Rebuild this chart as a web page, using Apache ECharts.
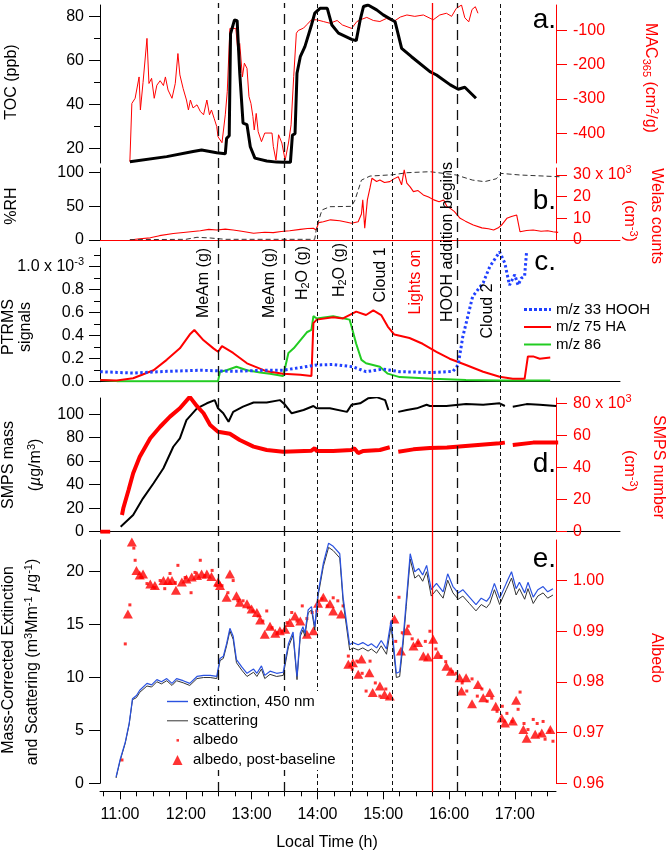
<!DOCTYPE html>
<html><head><meta charset="utf-8">
<script src="https://cdn.jsdelivr.net/npm/echarts@6/dist/echarts.min.js"></script>
<style>html,body{margin:0;padding:0;background:#fff}#c{width:666px;height:854px}</style>
</head><body><div id="c"></div>
<script>
// ---------------- DATA (time in decimal hours, local) ----------------
const tocPpb = [[11.15,13.9],[11.71,16.2],[12.11,18.5],[12.24,19.2],[12.47,18.0],[12.60,17.5],[12.62,24.5],[12.66,25.7],[12.68,72],[12.74,78.3],[12.78,78],[12.82,54],[12.87,31.4],[12.93,30.7],[12.98,20.7],[13.05,15.5],[13.23,14.2],[13.38,13.7],[13.48,13.6],[13.59,13.6],[13.62,26],[13.66,26.6],[13.69,54.1],[13.74,61.6],[13.81,66.2],[13.91,76],[13.96,81.4],[14.04,83.6],[14.15,83.6],[14.22,76],[14.32,72.3],[14.52,69.5],[14.59,68.9],[14.65,78.3],[14.70,84.4],[14.77,85.1],[14.90,82.9],[15.00,80.6],[15.18,77.5],[15.28,65.4],[15.43,61.6],[15.71,54.8],[15.81,53.3],[16.02,48.8],[16.14,46.8],[16.24,47.7],[16.41,42.7]];
const mac365 = [[11.15,-482],[11.18,-313],[11.23,-298],[11.26,-302],[11.29,-236],[11.31,-332],[11.35,-252],[11.41,-124],[11.44,-255],[11.48,-240],[11.52,-298],[11.56,-260],[11.61,-247],[11.66,-261],[11.69,-236],[11.73,-274],[11.79,-298],[11.84,-255],[11.88,-168],[11.91,-230],[11.96,-270],[12.01,-303],[12.04,-332],[12.07,-303],[12.11,-326],[12.17,-317],[12.22,-336],[12.27,-346],[12.32,-303],[12.36,-346],[12.39,-332],[12.43,-356],[12.47,-380],[12.49,-410],[12.55,-427],[12.60,-346],[12.63,-279],[12.67,-95],[12.76,-95],[12.79,-158],[12.82,-139],[12.86,-236],[12.89,-196],[12.93,-211],[12.96,-293],[12.99,-313],[13.02,-351],[13.04,-390],[13.07,-342],[13.10,-395],[13.15,-424],[13.20,-399],[13.31,-399],[13.33,-438],[13.37,-478],[13.41,-404],[13.46,-428],[13.51,-478],[13.56,-428],[13.60,-375],[13.64,-235],[13.68,-109],[13.71,-101],[13.79,-94],[13.84,-84],[13.91,-70],[13.99,-70],[14.09,-75],[14.19,-80],[14.30,-72],[14.38,-85],[14.45,-90],[14.52,-95],[14.60,-75],[14.68,-68],[14.75,-63],[14.85,-72],[14.95,-75],[15.05,-66],[15.16,-75],[15.26,-62],[15.36,-56],[15.48,-60],[15.61,-56],[15.76,-70],[15.86,-56],[15.96,-51],[16.04,-60],[16.11,-37],[16.19,-27],[16.24,-64],[16.30,-76],[16.35,-40],[16.40,-32],[16.44,-51]];
const rhPct = [[11.15,0.5],[12.00,1],[12.17,4],[12.37,3],[12.60,1],[13.96,1],[13.99,19.8],[14.07,44.6],[14.19,49.5],[14.52,50],[14.57,59],[14.67,89],[14.80,95],[15.15,97],[15.36,100],[15.71,101.5],[16.11,96.6],[16.36,89],[16.54,86.7],[16.72,91],[16.79,99],[17.08,96.6],[17.68,94]];
const welasK = [[11.15,0],[11.30,0.6],[11.46,1],[11.60,2],[11.81,3],[12.00,3.6],[12.22,4.3],[12.35,4.9],[12.47,4.6],[12.60,5.0],[12.72,4.6],[12.85,4.0],[13.03,3.1],[13.20,3.6],[13.33,3.4],[13.45,3.9],[13.58,4.3],[13.74,4.9],[13.85,5.3],[13.94,5.4],[13.98,4.6],[14.02,8.0],[14.09,8.4],[14.20,9.3],[14.34,8.9],[14.45,8.2],[14.52,7.7],[14.62,8.4],[14.67,12],[14.69,18.5],[14.72,5.4],[14.76,18.5],[14.80,24],[14.83,28.5],[14.90,27],[14.95,27.7],[15.02,26.5],[15.10,26.9],[15.17,28.3],[15.23,29.2],[15.28,25.4],[15.32,32.3],[15.36,26.2],[15.41,24.5],[15.46,22.3],[15.53,22.8],[15.61,20.8],[15.69,19.8],[15.77,18.5],[15.85,17.6],[15.92,18.4],[15.97,15.4],[16.02,14.6],[16.08,13.2],[16.17,10],[16.25,8.7],[16.37,6.9],[16.50,5.6],[16.60,5.2],[16.68,4.6],[16.75,5.6],[16.80,6.9],[16.88,10],[16.95,10.8],[17.03,11.5],[17.08,3.8],[17.18,4.4],[17.28,4.6],[17.40,4.0],[17.50,4.3],[17.58,3.8],[17.66,3.5]];
const hoohE3 = [[10.70,0.087],[11.20,0.075],[11.71,0.09],[12.22,0.1],[12.72,0.09],[13.23,0.1],[13.48,0.1],[13.99,0.145],[14.24,0.15],[14.54,0.13],[14.74,0.087],[15.00,0.11],[15.25,0.087],[15.76,0.08],[16.06,0.09],[16.14,0.145],[16.21,0.39],[16.36,0.74],[16.52,0.86],[16.62,1.0],[16.77,1.13],[16.85,1.03],[16.92,0.84],[17.00,0.93],[17.05,0.84],[17.10,0.9],[17.15,0.92],[17.18,1.13]];
const haE3 = [[10.70,0.015],[10.95,0.01],[11.20,0.03],[11.51,0.1],[11.71,0.19],[11.91,0.29],[12.06,0.41],[12.13,0.45],[12.27,0.36],[12.42,0.29],[12.49,0.26],[12.55,0.31],[12.72,0.25],[12.93,0.16],[13.23,0.09],[13.48,0.07],[13.74,0.06],[13.91,0.05],[13.94,0.51],[13.99,0.54],[14.24,0.56],[14.39,0.55],[14.59,0.61],[14.74,0.58],[14.85,0.62],[14.97,0.58],[15.07,0.48],[15.17,0.41],[15.40,0.38],[15.60,0.33],[15.81,0.26],[16.01,0.2],[16.26,0.145],[16.52,0.087],[16.77,0.043],[16.97,0.025],[17.15,0.025],[17.20,0.22],[17.28,0.22],[17.38,0.2],[17.54,0.21]];
const mz86E3 = [[10.70,0.015],[10.95,0.005],[12.49,0.005],[12.52,0.087],[12.62,0.1],[12.77,0.13],[12.93,0.1],[13.13,0.08],[13.28,0.07],[13.48,0.05],[13.56,0.25],[13.64,0.29],[13.74,0.36],[13.84,0.43],[13.91,0.45],[13.94,0.57],[13.99,0.55],[14.24,0.57],[14.49,0.54],[14.51,0.5],[14.59,0.33],[14.67,0.19],[14.74,0.16],[14.95,0.13],[15.07,0.07],[15.25,0.04],[15.76,0.025],[16.26,0.015],[16.77,0.01],[17.54,0.01]];
const smpsMass = [[10.70,0],[10.85,0],[10.86,null],[11.01,4.3],[11.20,14.2],[11.35,28.4],[11.51,41.2],[11.66,54],[11.81,72.3],[11.91,79.5],[12.01,95],[12.17,105],[12.32,109.3],[12.44,112],[12.49,105],[12.57,100.8],[12.65,93.6],[12.72,102],[12.87,106.4],[13.03,110],[13.23,110],[13.43,112],[13.51,108],[13.61,100.8],[13.79,103.6],[13.94,107],[13.99,105],[14.19,105],[14.45,102],[14.52,108],[14.65,109.3],[14.77,113.5],[14.90,114.5],[15.03,112],[15.08,103.6],[15.15,null],[15.23,102],[15.36,103.6],[15.51,105],[15.66,108],[15.71,107],[15.96,107],[16.26,108.6],[16.52,108],[16.77,109.3],[16.85,107],[16.90,null],[16.97,106.4],[17.18,108.6],[17.38,108],[17.63,107]];
const smpsNumK = [[10.70,0],[10.85,0],[10.86,null],[11.03,10.4],[11.05,14.6],[11.13,26],[11.20,36.4],[11.30,46.7],[11.46,58.2],[11.61,65.4],[11.76,71.7],[11.91,76.9],[12.06,84],[12.17,78.2],[12.27,73.8],[12.37,66.5],[12.49,62.3],[12.67,61],[12.82,57.1],[13.03,53],[13.23,50.9],[13.48,49.8],[13.91,50.5],[13.96,52],[13.99,50.3],[14.24,50.3],[14.52,50.9],[14.56,52],[14.62,49],[14.70,50.3],[14.95,50.9],[15.10,52.6],[15.15,null],[15.23,49.8],[15.46,51.3],[15.71,52.2],[15.97,52.4],[16.77,55.1],[16.85,55.5],[16.90,null],[16.97,54],[17.28,55.5],[17.66,55.5]];
const extinction = [[10.94,0.6],[11.00,2.2],[11.08,3.9],[11.14,5.7],[11.19,8.0],[11.25,8.3],[11.30,8.8],[11.41,9.45],[11.48,9.3],[11.56,9.8],[11.63,9.6],[11.71,9.9],[11.79,9.45],[11.86,9.9],[11.96,9.7],[12.06,9.45],[12.17,10.1],[12.27,10.2],[12.37,10.2],[12.47,10.1],[12.52,11.8],[12.57,12.0],[12.62,13.2],[12.67,14.65],[12.72,13.9],[12.77,11.7],[12.85,11.0],[12.93,10.4],[13.03,10.8],[13.08,10.4],[13.15,11.1],[13.20,10.2],[13.28,10.6],[13.38,10.4],[13.48,10.5],[13.56,13.2],[13.63,14.3],[13.69,10.1],[13.74,14.2],[13.78,14.8],[13.81,14.2],[13.86,16.4],[13.91,16.7],[13.96,14.8],[14.01,18.0],[14.09,20.8],[14.17,22.7],[14.24,22.4],[14.34,21.7],[14.39,17.6],[14.49,13.1],[14.54,13.3],[14.62,13.1],[14.69,13.3],[14.77,13.0],[14.82,13.2],[14.90,12.8],[14.97,13.5],[15.05,12.7],[15.12,15.4],[15.20,10.4],[15.25,10.55],[15.30,13.5],[15.35,17.2],[15.41,21.7],[15.48,20.0],[15.54,20.3],[15.60,19.7],[15.66,20.6],[15.73,18.3],[15.81,18.9],[15.91,18.1],[15.98,19.8],[16.06,18.6],[16.14,18.0],[16.21,18.3],[16.31,17.6],[16.41,16.9],[16.49,17.5],[16.57,17.2],[16.62,17.6],[16.69,18.9],[16.77,17.5],[16.87,18.9],[16.95,20.0],[17.02,18.4],[17.07,19.0],[17.15,18.0],[17.20,19.0],[17.28,17.6],[17.35,18.3],[17.43,18.6],[17.50,18.1],[17.58,18.4]];
const scattering = [[10.94,0.5],[11.00,2.1],[11.08,3.8],[11.14,5.6],[11.19,7.9],[11.25,8.1],[11.30,8.6],[11.41,9.2],[11.48,9.1],[11.56,9.6],[11.63,9.4],[11.71,9.7],[11.79,9.25],[11.86,9.7],[11.96,9.5],[12.06,9.25],[12.17,9.9],[12.27,10.0],[12.37,10.0],[12.47,9.9],[12.52,11.6],[12.57,11.8],[12.62,13.0],[12.67,14.4],[12.72,13.6],[12.77,11.4],[12.85,10.7],[12.93,10.1],[13.03,10.5],[13.08,10.1],[13.15,10.8],[13.20,9.9],[13.28,10.3],[13.38,10.1],[13.48,10.2],[13.56,12.9],[13.63,14.0],[13.69,9.8],[13.74,13.9],[13.78,14.5],[13.81,13.9],[13.86,16.1],[13.91,16.4],[13.96,14.5],[14.01,17.7],[14.09,20.5],[14.17,22.3],[14.24,22.0],[14.34,21.3],[14.39,17.2],[14.49,12.6],[14.54,12.8],[14.62,12.6],[14.69,12.8],[14.77,12.5],[14.82,12.7],[14.90,12.3],[14.97,13.0],[15.05,12.2],[15.12,14.9],[15.20,10.0],[15.25,10.1],[15.30,13.0],[15.35,16.7],[15.41,21.2],[15.48,19.4],[15.54,19.7],[15.60,19.1],[15.66,20.0],[15.73,17.7],[15.81,18.3],[15.91,17.5],[15.98,19.2],[16.06,18.0],[16.14,17.4],[16.21,17.7],[16.31,17.0],[16.41,16.3],[16.49,16.9],[16.57,16.6],[16.62,17.0],[16.69,18.3],[16.77,16.9],[16.87,18.3],[16.95,19.4],[17.02,17.8],[17.07,18.4],[17.15,17.4],[17.20,18.4],[17.28,17.0],[17.35,17.7],[17.43,18.0],[17.50,17.5],[17.58,17.8]];
const albedoRaw = [[11.03,0.9646],[11.08,0.9875],[11.15,0.9952],[11.21,1.0064],[11.23,1.004],[11.33,1.0006],[11.41,0.9994],[11.53,0.9986],[11.61,1.0],[11.68,0.9984],[11.76,1.0014],[11.84,0.9996],[11.88,1.003],[11.99,1.0006],[12.08,0.9976],[12.14,1.0016],[12.22,1.004],[12.29,1.001],[12.40,1.002],[12.46,0.999],[12.55,0.999],[12.64,0.9976],[12.72,1.0],[12.79,0.996],[12.87,0.996],[12.95,0.9946],[13.02,0.994],[13.10,0.993],[13.17,0.992],[13.23,0.994],[13.31,0.9907],[13.39,0.9897],[13.46,0.99],[13.54,0.9917],[13.61,0.9937],[13.69,0.992],[13.77,0.995],[13.84,0.9925],[13.92,0.9937],[13.99,0.994],[14.07,0.9964],[14.15,0.995],[14.24,0.9966],[14.31,0.996],[14.39,0.995],[14.47,0.9851],[14.53,0.9825],[14.60,0.9841],[14.68,0.9817],[14.74,0.9782],[14.80,0.9841],[14.88,0.9798],[14.95,0.9772],[15.04,0.9786],[15.19,0.988],[15.24,0.9967],[15.29,0.9897],[15.38,0.991],[15.44,0.9885],[15.53,0.9877],[15.64,0.988],[15.71,0.99],[15.80,0.9865],[15.88,0.985],[15.95,0.984],[16.05,0.982],[16.11,0.9817],[16.20,0.9798],[16.27,0.9782],[16.35,0.9806],[16.43,0.9772],[16.50,0.9786],[16.58,0.9762],[16.65,0.9768],[16.73,0.9742],[16.81,0.9752],[16.88,0.9738],[16.96,0.9722],[17.05,0.9746],[17.08,0.978],[17.14,0.9718],[17.20,0.9706],[17.28,0.9726],[17.34,0.9718],[17.38,0.9697],[17.43,0.9722],[17.46,0.9687],[17.53,0.9703],[17.58,0.9683],[17.63,0.9687]];
const albedoPost = [[11.12,0.9934],[11.18,1.0076],[11.25,1.002],[11.30,1.0011],[11.35,1.0013],[11.46,0.9993],[11.53,0.999],[11.66,1.0],[11.73,1.0],[11.79,1.0],[11.85,0.9981],[11.94,0.9997],[12.01,1.0003],[12.09,1.0007],[12.17,1.001],[12.24,1.0013],[12.32,1.0013],[12.39,1.0008],[12.49,0.9997],[12.52,0.999],[12.62,0.9967],[12.67,1.0013],[12.77,0.997],[12.82,0.9957],[12.93,0.9954],[13.00,0.9944],[13.08,0.9937],[13.13,0.9922],[13.20,0.9894],[13.28,0.991],[13.36,0.9896],[13.43,0.9901],[13.51,0.9904],[13.58,0.9917],[13.66,0.993],[13.74,0.992],[13.84,0.9894],[13.94,0.9901],[14.01,0.9955],[14.09,0.9967],[14.19,0.9954],[14.24,0.994],[14.36,0.9934],[14.47,0.9835],[14.54,0.9838],[14.62,0.9815],[14.67,0.9845],[14.79,0.9818],[14.84,0.9779],[14.95,0.9792],[15.02,0.9775],[15.10,0.9772],[15.17,0.9924],[15.27,0.9861],[15.36,0.9901],[15.46,0.9871],[15.53,0.9878],[15.61,0.9851],[15.68,0.9849],[15.76,0.9884],[15.83,0.9854],[15.96,0.9831],[16.03,0.9821],[16.16,0.9808],[16.19,0.9782],[16.26,0.9808],[16.35,0.9757],[16.44,0.9795],[16.52,0.9769],[16.62,0.9779],[16.71,0.9752],[16.80,0.9729],[16.85,0.9719],[16.97,0.9723],[17.02,0.9764],[17.13,0.9706],[17.18,0.9689],[17.31,0.9697],[17.41,0.9699],[17.54,0.9706],[17.63,0.9666]];
// events: times, labels and line kinds
const eventTimes = [12.5, 13.5, 14.0, 14.533, 15.133, 15.75, 16.133, 16.783];
const eventLabels = ['MeAm (g)', 'MeAm (g)', 'H{sub|2}O (g)', 'H{sub|2}O (g)', 'Cloud 1', 'Lights on', 'HOOH addition begins', 'Cloud 2'];
const eventKinds = ['long', 'long', 'short', 'short', 'short', 'red', 'long', 'short'];
// tick labels
const hourTicks = [11, 12, 13, 14, 15, 16, 17];
const quarterTicks = [10.75,11,11.25,11.5,11.75,12,12.25,12.5,12.75,13,13.25,13.5,13.75,14,14.25,14.5,14.75,15,15.25,15.5,15.75,16,16.25,16.5,16.75,17,17.25,17.5];
const tocTicks = [20, 40, 60, 80];
const tocMinor = [30, 50, 70];
const macTicks = [-400, -300, -200, -100];
const rhTicks = [0, 50, 100];
const welasTicks = [0, 10, 20, 30];
const ptrmsTicks = [0, 0.2, 0.4, 0.6, 0.8, 1.0];
const ptrmsMinor = [0.1, 0.3, 0.5, 0.7, 0.9, 1.1];
const massTicks = [0, 20, 40, 60, 80, 100];
const numTicks = [0, 20, 40, 60, 80];
const extTicks = [0, 5, 10, 15, 20];
const albTicks = [0.96, 0.97, 0.98, 0.99, 1.00];

// ---------------- LAYOUT ----------------
const FONT = 'Liberation Sans, Arial, Helvetica, sans-serif';
const RED = '#ff0000';
const T0 = 10.696, T1 = 17.626, T2 = 18.6;
const chart = echarts.init(document.getElementById('c'), null, {renderer: 'canvas'});

const RICH = {
  sup: {fontSize: 11, fontFamily: FONT, padding: [0, 0, 9, 0]},
  sub: {fontSize: 11, fontFamily: FONT, padding: [7, 0, 0, 0]},
  i: {fontStyle: 'italic', fontFamily: FONT, fontSize: 16}
};

function yAx(grid, pos, min, max, color, ticks, opt) {
  opt = opt || {};
  return {
    type: 'value', gridIndex: grid, position: pos, min: min, max: max,
    offset: opt.offset || 0,
    splitLine: {show: false},
    axisLine: {show: opt.noLine ? false : true, onZero: false, lineStyle: {color: color, width: 1}},
    axisTick: {show: true, length: opt.tickLen || 11, customValues: ticks, lineStyle: {color: color, width: 1}},
    axisLabel: opt.noLabel ? {show: false} : {show: true, customValues: ticks, margin: opt.margin || 16, color: color, fontSize: 16, fontFamily: FONT, formatter: opt.fmt, rich: Object.assign({}, RICH, {sup: {fontSize: 11, fontFamily: FONT, padding: [0,0,9,0], color: color}})}
  };
}
function xAx(grid, max, show, color) {
  return {
    type: 'value', gridIndex: grid, min: T0, max: max, show: show, position: 'bottom',
    splitLine: {show: false},
    axisLine: {show: true, onZero: false, lineStyle: {color: color || '#000', width: 1}},
    axisTick: {show: false}, axisLabel: {show: false}
  };
}

const grids = [
  {left: 100, width: 456, top: 5, height: 158},
  {left: 100, width: 520, top: 168, height: 72},
  {left: 100, width: 520, top: 248, height: 133.7},
  {left: 100, width: 520, top: 398, height: 133.7},
  {left: 100, width: 456, top: 540, height: 243.3},
  {left: 100, width: 456, top: 3, height: 789}
];

const xAxes = [
  xAx(0, T1, false),
  xAx(1, T2, true, RED),
  xAx(2, T2, true, '#000'),
  xAx(3, T2, true, '#000'),
  {type: 'value', gridIndex: 4, min: T0, max: T1, position: 'bottom', offset: 8, splitLine: {show: false},
   axisLine: {show: true, onZero: false, lineStyle: {color: '#000'}},
   axisTick: {show: true, length: 5, customValues: quarterTicks, lineStyle: {color: '#000'}},
   axisLabel: {show: true, customValues: hourTicks, margin: 15, fontSize: 16, fontFamily: FONT, color: '#000', formatter: v => Math.round(v) + ':00'}},
  {type: 'value', gridIndex: 4, min: T0, max: T1, position: 'bottom', offset: 8, splitLine: {show: false},
   axisLine: {show: false, onZero: false},
   axisTick: {show: true, length: 8, customValues: hourTicks, lineStyle: {color: '#000'}},
   axisLabel: {show: false}},
  xAx(5, T1, false)
];

const yAxes = [
  yAx(0, 'left', 13.3, 85.1, '#000', tocTicks),
  yAx(0, 'left', 13.3, 85.1, '#000', tocMinor, {noLine: true, noLabel: true, tickLen: 6}),
  yAx(0, 'right', -486, -27, RED, macTicks, {margin: 17}),
  yAx(1, 'left', 0, 107, '#000', rhTicks),
  yAx(1, 'right', 0, 33.2, RED, welasTicks, {offset: -64, margin: 17, fmt: v => v === 30 ? '30 x 10{sup|3}' : String(v)}),
  yAx(2, 'left', 0, 1.163, '#000', ptrmsTicks, {fmt: v => v > 0.99 ? '1.0 x 10{sup|-3}' : v.toFixed(1)}),
  yAx(2, 'left', 0, 1.163, '#000', ptrmsMinor, {noLine: true, noLabel: true, tickLen: 6}),
  yAx(3, 'left', 0, 113.8, '#000', massTicks),
  yAx(3, 'right', 0, 83.3, RED, numTicks, {offset: -64, margin: 17, fmt: v => v === 80 ? '80 x 10{sup|3}' : String(v)}),
  yAx(4, 'left', 0, 23, '#000', extTicks),
  yAx(4, 'right', 0.96, 1.008, RED, albTicks, {margin: 17, fmt: v => v.toFixed(2)}),
  {type: 'value', gridIndex: 5, min: 0, max: 1, show: false}
];

function lineS(name, data, xi, yi, color, width, type, z) {
  return {name: name, type: 'line', data: data, xAxisIndex: xi, yAxisIndex: yi, symbol: 'none', showSymbol: false,
    connectNulls: false, z: z || 2, lineStyle: {color: color, width: width, type: type || 'solid'}, itemStyle: {color: color}, animation: false};
}

const dashFor = {long: [10, 6], short: [4, 3], red: 'solid'};
const eventLines = eventTimes.map((t, i) => ({
  xAxis: t,
  lineStyle: {color: eventKinds[i] === 'red' ? RED : '#111', width: eventKinds[i] === 'short' ? 1 : 1.3, type: dashFor[eventKinds[i]]}
}));

const series = [
  lineS('TOC', tocPpb, 0, 0, '#000', 3, 'solid', 3),
  lineS('MAC365', mac365, 0, 2, RED, 1, 'solid', 2),
  lineS('RH', rhPct, 1, 3, '#333', 1, [5, 3], 3),
  lineS('Welas', welasK, 1, 4, RED, 1.1, 'solid', 2),
  lineS('m/z 86', mz86E3, 2, 5, '#22cc22', 2),
  lineS('m/z 75 HA', haE3, 2, 5, RED, 2),
  lineS('m/z 33 HOOH', hoohE3, 2, 5, '#2040ff', 3, [2.5, 2.5], 4),
  lineS('SMPS mass', smpsMass, 3, 7, '#000', 2),
  lineS('SMPS number', smpsNumK, 3, 8, RED, 4),
  {name: 'albedo', type: 'scatter', data: albedoRaw, xAxisIndex: 4, yAxisIndex: 10, symbol: 'rect', symbolSize: 3, itemStyle: {color: RED}, animation: false},
  {name: 'albedo, post-baseline', type: 'scatter', data: albedoPost, xAxisIndex: 4, yAxisIndex: 10, symbol: 'triangle', symbolSize: [10, 9], itemStyle: {color: RED}, animation: false},
  lineS('extinction, 450 nm', extinction, 4, 9, '#2a52e0', 1.2, 'solid', 4),
  lineS('scattering', scattering, 4, 9, '#333', 1, 'solid', 3),
  {name: 'events', type: 'line', data: [], xAxisIndex: 6, yAxisIndex: 11, silent: true, z: 1,
   markLine: {silent: true, symbol: ['none', 'none'], label: {show: false}, animation: false, data: eventLines}}
];

const legendText = {fontSize: 15, fontFamily: FONT, color: '#000'};
const option = {
  animation: false,
  backgroundColor: '#fff',
  grid: grids, xAxis: xAxes, yAxis: yAxes, series: series,
  legend: [
    {orient: 'vertical', left: 519, top: 297, itemWidth: 27, itemHeight: 14, itemGap: 2.5, selectedMode: false, textStyle: legendText,
     data: [
       {name: 'm/z 33 HOOH', icon: 'path://M0,0M0,5.5h3v3h-3zM5,5.5h3v3h-3zM10,5.5h3v3h-3zM15,5.5h3v3h-3zM20,5.5h3v3h-3zM25,5.5h2v3h-2zM27,14'},
       {name: 'm/z 75 HA', icon: 'path://M0,0M0,6h27v2h-27zM27,14'},
       {name: 'm/z 86', icon: 'path://M0,0M0,6h27v2h-27zM27,14'}]},
    {orient: 'vertical', left: 164, top: 691, padding: [3, 6, 3, 3], backgroundColor: '#fff', z: 10,
     itemWidth: 21, itemHeight: 14, itemGap: 4.3, selectedMode: false, textStyle: legendText,
     data: [
       {name: 'extinction, 450 nm', icon: 'path://M0,0M0,6.3h21v1.4h-21zM21,14'},
       {name: 'scattering', icon: 'path://M0,0M0,6.5h21v1h-21zM21,14'},
       {name: 'albedo', icon: 'path://M0,0M9.5,6h2.5v2.5h-2.5zM21,14'},
       {name: 'albedo, post-baseline', icon: 'path://M0,0M5.5,12.5L10.5,2.5L15.5,12.5zM21,14'}]}
  ]
};
chart.setOption(option);

// ---------------- TEXT ANNOTATIONS ----------------
function txt(text, x, y, rot, color, size, align) {
  return {type: 'text', x: x, y: y, rotation: rot || 0, silent: true, z: 50,
    style: {text: text, fill: color || '#000', font: (size || 16) + 'px ' + FONT, fontSize: size || 16, fontFamily: FONT,
      align: align || 'center', verticalAlign: 'middle', rich: {
        sup: {fontSize: 11, fontFamily: FONT, fill: color || '#000', padding: [0, 0, 9, 0]},
        sub: {fontSize: 11, fontFamily: FONT, fill: color || '#000', padding: [7, 0, 0, 0]},
        i: {fontStyle: 'italic', fontSize: size || 16, fontFamily: FONT, fill: color || '#000'}}}};
}
const UP = Math.PI / 2, DOWN = -Math.PI / 2;
const labelPos = [[-15, 283], [-15, 283], [-15, 273], [-13, 270], [-11, 275], [-17, 282], [-10, 242], [-13, 311]];
const graphics = [
  txt('TOC (ppb)', 12, 82, UP),
  txt('%RH', 12, 206, UP),
  txt('PTRMS', 9, 327, UP),
  txt('signals', 26, 327, UP),
  txt('SMPS mass', 9, 465, UP),
  txt('({i|µ}g/m{sup|3})', 36, 465, UP),
  txt('Mass-Corrected Extinction', 9, 660, UP),
  txt('and Scattering (m{sup|3}Mm{sup|-1} {i|µ}g{sup|-1})', 33, 662, UP),
  txt('MAC{sub|365} (cm{sup|2}/g)', 650, 78, DOWN, RED),
  txt('Welas counts', 656, 216, DOWN, RED),
  txt('(cm{sup|-3})', 629, 221, DOWN, RED),
  txt('SMPS number', 658, 467, DOWN, RED),
  txt('(cm{sup|-3})', 629, 471, DOWN, RED),
  txt('Albedo', 656, 658, DOWN, RED),
  txt('Local Time (h)', 327, 843, 0),
  txt('a.', 556, 20, 0, '#000', 28, 'right'),
  txt('b.', 556, 201, 0, '#000', 28, 'right'),
  txt('c.', 556, 262, 0, '#000', 28, 'right'),
  txt('d.', 556, 464, 0, '#000', 28, 'right'),
  txt('e.', 556, 559, 0, '#000', 28, 'right')
];
eventTimes.forEach((t, i) => {
  const px = chart.convertToPixel({xAxisIndex: 6}, t);
  graphics.push(txt(eventLabels[i], px + labelPos[i][0], labelPos[i][1], UP, eventKinds[i] === 'red' ? RED : '#000'));
});
chart.setOption({graphic: graphics});
</script></body></html>
